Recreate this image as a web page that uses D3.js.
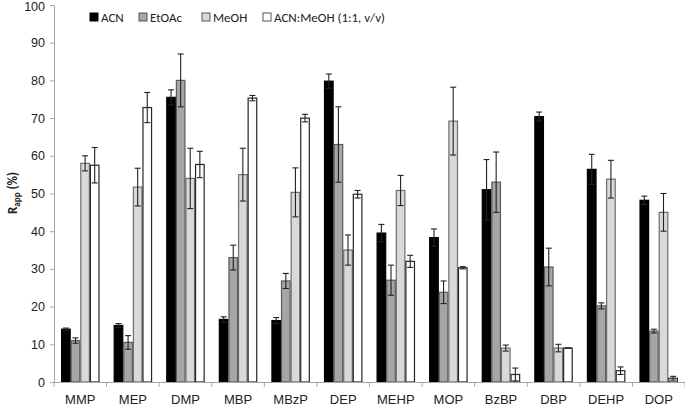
<!DOCTYPE html>
<html><head><meta charset="utf-8">
<script src="https://cdn.jsdelivr.net/npm/d3@7"></script>
<style>
body{margin:0;background:#fff;}
svg{display:block;font-family:Calibri,Carlito,"Open Sans","Noto Sans",sans-serif;}
</style></head>
<body><svg id="c" width="685" height="406"></svg>
<script>
const categories = ["MMP","MEP","DMP","MBP","MBzP","DEP","MEHP","MOP","BzBP","DBP","DEHP","DOP"];
const seriesNames = ["ACN","EtOAc","MeOH","ACN:MeOH (1:1, v/v)"];
const acn      = [14.0, 15.0, 75.5, 16.6, 16.3, 79.8, 39.5, 38.3, 51.0, 70.4, 56.4, 48.2];
const acnErr   = [0.3, 0.5, 2.0, 0.7, 0.8, 1.9, 2.3, 2.3, 8.0, 1.2, 4.0, 1.1];
const etoac    = [11.0, 10.5, 80.0, 33.0, 26.8, 63.0, 27.0, 23.8, 53.0, 30.5, 20.2, 13.5];
const etoacErr = [0.7, 1.8, 7.0, 3.3, 2.0, 10.0, 4.0, 3.0, 8.0, 5.0, 0.8, 0.5];
const meoh     = [58.0, 51.7, 54.0, 55.0, 50.3, 35.0, 50.8, 69.2, 9.0, 9.0, 53.8, 45.0];
const meohErr  = [2.0, 5.0, 8.0, 7.0, 6.5, 4.0, 4.0, 9.0, 0.8, 1.0, 5.0, 5.0];
const mix      = [57.5, 72.8, 57.7, 75.3, 70.0, 49.8, 32.0, 30.3, 2.0, 9.0, 3.0, 1.0];
const mixErr   = [4.7, 4.0, 3.5, 0.7, 1.0, 1.0, 1.6, 0.3, 1.7, 0.0, 1.0, 0.5];
const yTicks   = [0,10,20,30,40,50,60,70,80,90,100];

const series = [
  {name: seriesNames[0], vals: acn, errs: acnErr, fill: "#000000", stroke: "#000000"},
  {name: seriesNames[1], vals: etoac, errs: etoacErr, fill: "#a6a6a6", stroke: "#5a5a5a"},
  {name: seriesNames[2], vals: meoh, errs: meohErr, fill: "#d9d9d9", stroke: "#6e6e6e"},
  {name: seriesNames[3], vals: mix, errs: mixErr, fill: "#ffffff", stroke: "#262626"}
];

const svg = d3.select("#c");
const pLeft = 54, pRight = 685, pTop = 5, pBottom = 382;
const x = d3.scaleBand().domain(categories).range([pLeft, pRight]).paddingInner(0.27).paddingOuter(0.135);
const xs = d3.scaleBand().domain(d3.range(4)).range([0, x.bandwidth()]);
const y = d3.scaleLinear().domain([0, 100]).range([pBottom, pTop]);

// y axis
const yAxis = svg.append("g").attr("transform", `translate(${pLeft},0)`)
  .call(d3.axisLeft(y).tickValues(yTicks).tickSize(4).tickPadding(5));
yAxis.select(".domain").attr("stroke", "#a6a6a6");
yAxis.selectAll(".tick line").attr("stroke", "#a6a6a6");
yAxis.selectAll("text").attr("font-size", 12.5).attr("fill", "#222");
yAxis.selectAll(".tick").filter(d => d === 100).select("text").attr("dy", "0.4em");

// bars
series.forEach((s, si) => {
  const g = svg.append("g");
  g.selectAll("rect").data(categories).join("rect")
    .attr("x", c => x(c) + xs(si) + 0.5)
    .attr("y", (c, i) => y(s.vals[i]))
    .attr("width", xs.bandwidth() - 1)
    .attr("height", (c, i) => y(0) - y(s.vals[i]))
    .attr("fill", s.fill).attr("stroke", s.stroke).attr("stroke-width", 1.2);
});
// error bars
series.forEach((s, si) => {
  const g = svg.append("g").attr("stroke", "#222").attr("stroke-width", 1.1);
  categories.forEach((c, i) => {
    const cx = x(c) + xs(si) + xs.bandwidth() / 2;
    const hi = y(s.vals[i] + s.errs[i]), lo = y(s.vals[i] - s.errs[i]);
    g.append("line").attr("x1", cx).attr("x2", cx).attr("y1", hi).attr("y2", lo);
    g.append("line").attr("x1", cx - 3).attr("x2", cx + 3).attr("y1", hi).attr("y2", hi);
    g.append("line").attr("x1", cx - 3).attr("x2", cx + 3).attr("y1", lo).attr("y2", lo);
  });
});

// x axis
const xAxis = svg.append("g").attr("transform", `translate(0,${pBottom})`)
  .call(d3.axisBottom(x).tickSize(0).tickPadding(13));
xAxis.select(".domain").attr("stroke", "#a6a6a6");
xAxis.selectAll("text").attr("font-size", 13).attr("fill", "#222");
const bounds = categories.map(c => x(c) - x.step() * x.paddingInner() / 2).concat([pRight]);
xAxis.selectAll(".sep").data(bounds).join("line")
  .attr("x1", d => d).attr("x2", d => d).attr("y1", 0).attr("y2", 5)
  .attr("stroke", "#a6a6a6");

// y label
const yl = svg.append("text").attr("transform", "translate(17,193) rotate(-90)")
  .attr("text-anchor", "middle").attr("font-size", 13).attr("font-weight", "bold").attr("fill", "#222");
yl.append("tspan").text("R");
yl.append("tspan").text("app").attr("font-size", 9).attr("dy", 3);
yl.append("tspan").text(" (%)").attr("dy", -3);

// legend
const legX = [90, 139, 202, 263];
const leg = svg.append("g");
series.forEach((s, i) => {
  leg.append("rect").attr("x", legX[i]).attr("y", 13).attr("width", 8).attr("height", 8)
    .attr("fill", s.fill).attr("stroke", i === 0 ? "#000" : "#555").attr("stroke-width", 1);
  leg.append("text").attr("x", legX[i] + 11).attr("y", 22).attr("font-size", 13).attr("fill", "#222").text(s.name);
});
</script></body></html>
